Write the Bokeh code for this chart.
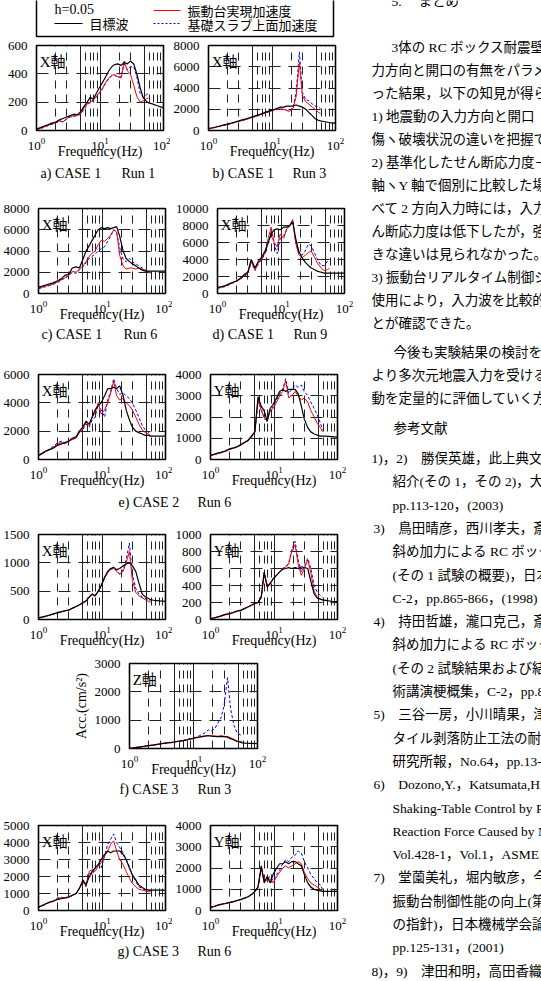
from bokeh.plotting import figure
from bokeh.layouts import column, row
from bokeh.models import Range1d, FixedTicker, Grid, Label, Spacer
from bokeh.core.properties import value
from bokeh.embed import file_html
from bokeh.resources import INLINE

SERIF = "Liberation Serif"
MIXED = "Liberation Serif, Noto Sans CJK JP"
JP = "Noto Sans CJK JP"

# ---------------- data ----------------
F = [1.0, 1.15, 1.3, 1.5, 1.7, 2.0, 2.3, 2.6, 3.0, 3.4, 3.9, 4.4, 5.0, 5.6, 6.3, 7.0, 7.8, 8.7, 9.7,
     11, 12.3, 13.7, 15.3, 17, 19, 21.5, 24, 27, 30, 34, 38, 43, 48, 54, 58]
F_TAIL = [65, 80, 100]

# a) CASE1 Run1 X
A_K = [10, 20, 30, 40, 50, 60, 75, 85, 95, 105, 115, 110, 135, 170, 200, 235, 220, 260, 300, 340, 380, 420, 450, 465, 470, 460, 480, 470, 490, 470, 400, 300, 230, 205, 195, 190, 175, 160]
A_R = [8, 15, 25, 35, 45, 55, 70, 60, 85, 100, 105, 110, 120, 160, 190, 200, 215, 240, 265, 300, 340, 370, 390, 395, 380, 370, 490, 420, 400, 320, 240, 200, 210, 225, 230]
A_B = [5, 12, 22, 33, 42, 52, 65, 62, 80, 95, 100, 105, 115, 150, 185, 195, 210, 235, 260, 295, 335, 365, 385, 390, 375, 380, 470, 430, 450, 450, 380, 260, 235, 255, 260]
# b) CASE1 Run3 X
B_K = [200, 260, 330, 420, 500, 600, 700, 800, 900, 1000, 1100, 1200, 1300, 1400, 1500, 1600, 1700, 1800, 1900, 2000, 2100, 2200, 2200, 2300, 2300, 2300, 2400, 2300, 2200, 2000, 1700, 1400, 1100, 950, 900, 850, 750, 700]
B_R = [150, 220, 300, 400, 480, 580, 680, 760, 870, 950, 1050, 1150, 1250, 1350, 1450, 1550, 1650, 1750, 1850, 1950, 2000, 2050, 2000, 1900, 1800, 2100, 3200, 6400, 3300, 2700, 2500, 2200, 2000, 1700, 1600]
B_B = [150, 220, 300, 390, 470, 570, 670, 750, 860, 940, 1040, 1140, 1240, 1340, 1440, 1540, 1640, 1740, 1840, 1940, 2000, 2000, 1950, 1900, 1800, 2200, 3600, 7400, 3600, 2900, 2800, 2500, 2300, 2200, 2100]
# c) CASE1 Run6 X
C_K = [600, 700, 800, 900, 1000, 1200, 1400, 1700, 1800, 2400, 2500, 2400, 3200, 4000, 4500, 5000, 5500, 6000, 6200, 6100, 6200, 6100, 6200, 6300, 5400, 4000, 3300, 3000, 2800, 2600, 2400, 2200, 2100, 2100, 2100, 2100, 2100, 2100]
C_R = [500, 600, 700, 800, 900, 1100, 1300, 1500, 1700, 2100, 2000, 2300, 2600, 3000, 3500, 3800, 4000, 4600, 5000, 4900, 5200, 5500, 6000, 5800, 3600, 2600, 2300, 2400, 2400, 2300, 2400, 2300, 2200, 2000, 1900]
C_B = [450, 550, 650, 750, 850, 1050, 1250, 1450, 1650, 2000, 1900, 2200, 2500, 2900, 3300, 3500, 3700, 4000, 4200, 4400, 4900, 5400, 6000, 5800, 4300, 3200, 3000, 3300, 3000, 2800, 2600, 2400, 2200, 2100, 2000]
# d) CASE1 Run9 X
D_K = [700, 800, 900, 1100, 1300, 1500, 1800, 2200, 2500, 4000, 3000, 3800, 4300, 5000, 6000, 7000, 7500, 7600, 7500, 7800, 7800, 8000, 8400, 6500, 5000, 4200, 3700, 3300, 3000, 2800, 2600, 2500, 2400, 2400, 2400, 2400, 2400, 2400]
D_R = [650, 750, 850, 1050, 1250, 1450, 1750, 2100, 2400, 3800, 2800, 3600, 4100, 4800, 6500, 7800, 6000, 5500, 7000, 6500, 7600, 8000, 8700, 6000, 4600, 4200, 4500, 4800, 5000, 4200, 3500, 3000, 2700, 2800, 3000]
D_B = [600, 700, 800, 1000, 1200, 1400, 1700, 2000, 2300, 3700, 2700, 3500, 4000, 4700, 6000, 7300, 5800, 4700, 6500, 6800, 7500, 8000, 8600, 6000, 4800, 4500, 5000, 5800, 5600, 4700, 3900, 3300, 3300, 3800, 4000]
# e) CASE2 Run6 X / Y
EX_K = [300, 450, 600, 700, 800, 1000, 1100, 1200, 1300, 1500, 1600, 2000, 2300, 2700, 2500, 3000, 3500, 3800, 4000, 4500, 5000, 5000, 5100, 5000, 5200, 4500, 3500, 2800, 2300, 2000, 1900, 1800, 1700, 1700, 1650, 1650, 1650, 1650]
EX_R = [250, 400, 550, 700, 850, 1100, 1200, 1100, 1300, 1400, 1500, 1900, 2200, 2600, 2400, 3000, 3300, 4000, 3200, 3500, 4000, 4700, 5500, 4500, 4200, 4300, 4000, 3800, 3500, 3000, 2500, 2100, 1900, 1800, 1700]
EX_B = [250, 420, 580, 750, 900, 1200, 1300, 1150, 1300, 1450, 1550, 1900, 2100, 2500, 2300, 2800, 3000, 3900, 3500, 3000, 4200, 4800, 5700, 5000, 4600, 4700, 4500, 4300, 4000, 3500, 3000, 2400, 2100, 1900, 1900]
EY_K = [200, 250, 300, 350, 400, 500, 550, 600, 700, 800, 900, 1100, 1300, 2950, 2500, 2300, 1800, 2400, 2600, 2900, 3200, 3300, 3200, 3300, 3300, 3300, 3100, 2500, 1900, 1500, 1300, 1200, 1150, 1100, 1100, 1100, 1080, 1050]
EY_R = [180, 230, 280, 330, 380, 480, 530, 580, 680, 780, 880, 1050, 1300, 2800, 2300, 2000, 1800, 2300, 2400, 2700, 3000, 3200, 3700, 2900, 3000, 3200, 3000, 2800, 2900, 2700, 2300, 2000, 1700, 1500, 1300]
EY_B = [180, 230, 280, 330, 380, 480, 530, 580, 680, 780, 880, 1050, 1300, 2700, 2400, 1900, 1900, 2300, 2500, 2800, 3100, 3300, 3800, 3100, 3300, 3500, 3400, 3500, 3200, 3000, 2700, 2400, 2100, 1700, 1400]
# f) CASE3 Run3 X / Y / Z
FX_K = [30, 45, 60, 80, 100, 120, 140, 155, 170, 200, 230, 260, 300, 330, 400, 450, 420, 500, 600, 750, 850, 900, 920, 880, 900, 950, 980, 1000, 950, 850, 650, 450, 400, 370, 350, 340, 330, 320]
FX_R = [25, 40, 55, 75, 95, 115, 135, 150, 165, 195, 225, 255, 290, 320, 390, 440, 410, 490, 590, 730, 830, 880, 900, 850, 800, 850, 1000, 1200, 700, 480, 420, 380, 350, 320, 300]
FX_B = [25, 40, 55, 75, 95, 115, 135, 150, 165, 195, 225, 255, 290, 320, 390, 440, 410, 490, 590, 730, 830, 890, 920, 870, 800, 880, 1050, 1350, 800, 550, 450, 400, 370, 350, 330]
FY_K = [10, 20, 30, 45, 60, 70, 85, 100, 110, 130, 150, 170, 190, 200, 260, 560, 380, 420, 480, 520, 560, 590, 600, 610, 600, 610, 600, 620, 610, 600, 450, 300, 250, 240, 230, 225, 215, 210]
FY_R = [8, 18, 28, 42, 55, 65, 80, 95, 105, 125, 145, 165, 185, 200, 270, 540, 400, 430, 480, 520, 560, 600, 620, 650, 800, 880, 650, 520, 600, 700, 550, 330, 260, 240, 230]
FY_B = [8, 18, 28, 42, 55, 65, 80, 95, 105, 125, 145, 165, 185, 200, 270, 540, 400, 430, 480, 520, 560, 600, 620, 660, 820, 920, 700, 560, 620, 720, 600, 400, 320, 280, 260]
Z_K = [0, 20, 40, 60, 80, 100, 120, 140, 160, 180, 200, 210, 230, 250, 260, 280, 300, 330, 350, 380, 400, 420, 440, 450, 440, 430, 420, 430, 420, 400, 350, 300, 250, 220, 200, 190, 180, 170]
Z_R = [0, 20, 40, 60, 80, 100, 120, 140, 160, 180, 200, 210, 230, 250, 270, 290, 310, 340, 360, 390, 410, 430, 450, 460, 450, 440, 430, 450, 430, 420, 380, 320, 260, 250, 260]
Z_B = [0, 20, 40, 60, 80, 100, 120, 140, 160, 180, 200, 210, 230, 250, 270, 290, 310, 340, 360, 400, 450, 500, 560, 650, 620, 700, 900, 1100, 1500, 2500, 1400, 800, 550, 480, 450]
# g) CASE3 Run6 X / Y
GX_K = [200, 300, 400, 500, 550, 650, 700, 750, 800, 900, 1000, 1300, 1800, 1500, 2000, 2300, 2500, 2700, 3000, 3300, 3500, 3400, 3500, 3500, 3500, 3300, 3000, 2500, 2100, 1800, 1500, 1350, 1250, 1200, 1200, 1200, 1200, 1200]
GX_R = [180, 280, 380, 480, 530, 700, 750, 720, 780, 880, 980, 1300, 1700, 1450, 2300, 2400, 2300, 2600, 2800, 3200, 3500, 3900, 4100, 3500, 3000, 2700, 2300, 1900, 1600, 1400, 1250, 1200, 1150, 1100, 1100]
GX_B = [180, 280, 380, 480, 530, 750, 780, 720, 780, 880, 980, 1300, 1700, 1400, 2200, 2100, 2500, 2700, 2500, 3200, 3900, 4200, 4500, 4000, 3700, 3400, 3000, 2600, 2100, 1700, 1400, 1300, 1200, 1200, 1150]
GY_K = [150, 200, 250, 300, 330, 380, 420, 470, 520, 580, 650, 750, 900, 1100, 2100, 1300, 1600, 1300, 1700, 2000, 2200, 2200, 2300, 2200, 2300, 2300, 2200, 2100, 1700, 1300, 1100, 1000, 950, 920, 900, 900, 900, 900]
GY_R = [140, 190, 240, 290, 320, 370, 410, 460, 510, 570, 640, 740, 880, 1100, 2000, 1500, 1400, 1500, 1300, 1600, 1800, 2000, 2100, 2000, 2100, 2200, 2300, 2200, 1800, 1500, 1300, 1200, 1100, 1000, 900]
GY_B = [140, 190, 240, 290, 320, 370, 410, 460, 510, 570, 640, 740, 880, 1100, 2000, 1400, 1500, 1600, 1400, 1700, 1900, 2200, 2400, 2300, 2500, 2600, 2800, 2700, 2300, 2000, 1700, 1500, 1300, 1200, 1000]

GRID_DASHED = [2, 3, 6, 7, 8, 9, 20, 30, 60, 70, 80, 90]
GRID_SOLID = [5, 10, 50]
X_TICKS = [1, 10, 100]

LEGEND_LABELS = ["h=0.05", "目標波", "振動台実現加速度", "基礎スラブ上面加速度"]

CAPTIONS = [
    ["a) CASE 1", "Run 1", "b) CASE 1", "Run 3"],
    ["c) CASE 1", "Run 6", "d) CASE 1", "Run 9"],
    ["e) CASE 2", "Run 6"],
    ["f) CASE 3", "Run 3"],
    ["g) CASE 3", "Run 6"],
]

RIGHT_TEXT = [
    "5.　 まとめ",
    "3体の RC ボックス耐震壁試",
    "力方向と開口の有無をパラメ",
    "った結果，以下の知見が得ら",
    "1) 地震動の入力方向と開口",
    "傷ヽ破壊状況の違いを把握で",
    "2) 基準化したせん断応力度－",
    "軸ヽY 軸で個別に比較した場",
    "べて 2 方向入力時には，入力波",
    "ん断応力度は低下したが，強軸",
    "きな違いは見られなかった。",
    "3) 振動台リアルタイム制御シ",
    "使用により，入力波を比較的",
    "とが確認できた。",
    "今後も実験結果の検討を継",
    "より多次元地震入力を受ける",
    "動を定量的に評価していく方",
    "参考文献",
    "1)，2)　勝俣英雄，此上典文：",
    "紹介(その 1，その 2)，大林",
    "pp.113-120，(2003)",
    "3)　鳥田晴彦，西川孝夫，斎藤",
    "斜め加力による RC ボック",
    "(その 1 試験の概要)，日本",
    "C-2，pp.865-866，(1998)",
    "4)　持田哲雄，瀧口克己，斎藤",
    "斜め加力による RC ボック",
    "(その 2 試験結果および結",
    "術講演梗概集，C-2，pp.86",
    "5)　三谷一房，小川晴果，津田",
    "タイル剥落防止工法の耐震",
    "研究所報，No.64，pp.13-18",
    "6)　Dozono,Y.，Katsumata,H. an",
    "Shaking-Table Control by Re",
    "Reaction Force Caused by N",
    "Vol.428-1，Vol.1，ASME，",
    "7)　堂薗美礼，堀内敏彦，今野",
    "振動台制御性能の向上(第",
    "の指針)，日本機械学会論",
    "pp.125-131，(2001)",
    "8)，9)　津田和明，高田香織：",
]
RIGHT_X = [20, 20, 0, 0, 0, 0, 0, 0, 0, 0, 0, 0, 0, 0, 22, 0, 0, 22,
           0, 21, 21, 2, 21, 21, 21, 2, 21, 21, 21, 2, 21, 21, 2, 21, 21, 21, 2, 21, 21, 21, 0]
RIGHT_Y = [1, 47, 70, 93, 116, 139, 162, 185, 208, 231, 254, 277, 300, 323, 352, 375, 398, 428] + \
          [round(458 + 23.3 * i, 1) for i in range(23)]


# ---------------- helpers ----------------
def spec_plot(black, red, blue, ymax, ystep, axis_name, left=36, right=7, top=8,
              frame_w=127, ylabel=None):
    p = figure(frame_width=frame_w, frame_height=85, x_axis_type="log",
               x_range=Range1d(1, 100), y_range=Range1d(0, ymax),
               min_border_left=left, min_border_right=right, min_border_top=top,
               min_border_bottom=34, toolbar_location=None, output_backend="svg",
               title=None)
    p.outline_line_color = "black"
    p.outline_line_width = 1.6
    yt = list(range(0, ymax + 1, ystep))
    p.xaxis.ticker = FixedTicker(ticks=X_TICKS)
    p.yaxis.ticker = FixedTicker(ticks=yt)
    for ax in p.axis:
        ax.axis_line_color = None
        ax.major_tick_line_color = None
        ax.minor_tick_line_color = None
        ax.major_label_text_font = SERIF
        ax.major_label_text_font_size = "13px"
        ax.major_label_text_color = "black"
        ax.major_label_standoff = 3
    p.xaxis.major_label_standoff = 1
    p.xaxis.axis_label = "Frequency(Hz)"
    p.xaxis.axis_label_text_font = SERIF
    p.xaxis.axis_label_text_font_size = "14px"
    p.xaxis.axis_label_text_font_style = "normal"
    p.xaxis.axis_label_text_color = "black"
    p.xaxis.axis_label_standoff = -9
    if ylabel:
        p.yaxis.axis_label = ylabel
        p.yaxis.axis_label_text_font = SERIF
        p.yaxis.axis_label_text_font_size = "14px"
        p.yaxis.axis_label_text_font_style = "normal"
        p.yaxis.axis_label_text_color = "black"
        p.yaxis.axis_label_standoff = 3
    p.xgrid.ticker = FixedTicker(ticks=GRID_DASHED)
    p.xgrid.grid_line_color = "#222222"
    p.xgrid.grid_line_dash = "8 6"
    p.xgrid.grid_line_width = 1
    p.ygrid.ticker = FixedTicker(ticks=yt)
    p.ygrid.grid_line_color = "#222222"
    p.ygrid.grid_line_dash = "12 8"
    p.ygrid.grid_line_width = 1
    p.add_layout(Grid(dimension=0, ticker=FixedTicker(ticks=GRID_SOLID),
                      grid_line_color="#222222", grid_line_width=1))
    p.line(F, blue, line_color="blue", line_width=1, line_dash="3 2")
    p.line(F, red, line_color="red", line_width=1)
    p.line(F + F_TAIL, black, line_color="black", line_width=1.2)
    p.add_layout(Label(x=1.12, y=ymax * 0.81, text=axis_name, text_font=MIXED,
                       text_font_size="15px", text_baseline="middle", text_color="black"))
    return p


def blank_fig(width, height):
    p = figure(width=width, height=height, x_range=Range1d(0, width), y_range=Range1d(height, 0),
               toolbar_location=None, output_backend="svg", x_axis_location=None,
               y_axis_location=None, min_border=0, title=None)
    p.outline_line_color = None
    p.grid.visible = False
    return p


def caption_fig(height, y, xs, texts):
    p = blank_fig(360, height)
    p.text(x=xs, y=[y] * len(xs), text=texts, text_font=value(SERIF), text_font_size="14px",
           text_baseline="middle", text_align="left", text_color="black")
    return p


# ---------------- legend ----------------
leg = blank_fig(360, 40)
leg.quad(left=[36], right=[333], top=[-5], bottom=[36], fill_color=None,
         line_color="black", line_width=1.5)
leg.line([54, 82], [23, 23], line_color="black", line_width=1)
leg.line([153, 180], [10, 10], line_color="red", line_width=1)
leg.line([153, 180], [23, 23], line_color="blue", line_width=1, line_dash="2 2")
leg.text(x=[54], y=[9], text=[LEGEND_LABELS[0]], text_font=value(SERIF), text_font_size="14px",
         text_baseline="middle")
leg.text(x=[89, 187, 187], y=[23, 10, 24], text=LEGEND_LABELS[1:], text_font=value(JP),
         text_font_size="13px", text_baseline="middle")

# ---------------- plots ----------------
pa = spec_plot(A_K, A_R, A_B, 600, 200, "X軸", top=5)
pb = spec_plot(B_K, B_R, B_B, 8000, 2000, "X軸", right=27, top=5)
pc = spec_plot(C_K, C_R, C_B, 8000, 2000, "X軸")
pd = spec_plot(D_K, D_R, D_B, 10000, 2000, "X軸", right=27)
pex = spec_plot(EX_K, EX_R, EX_B, 6000, 2000, "X軸")
pey = spec_plot(EY_K, EY_R, EY_B, 4000, 1000, "Y軸", right=27)
pfx = spec_plot(FX_K, FX_R, FX_B, 1500, 500, "X軸")
pfy = spec_plot(FY_K, FY_R, FY_B, 1000, 200, "Y軸", right=27)
pz = spec_plot(Z_K, Z_R, Z_B, 3000, 1000, "Z軸", left=51, right=111, top=10, frame_w=128,
               ylabel="Acc.(cm/s²)")
pgx = spec_plot(GX_K, GX_R, GX_B, 5000, 1000, "X軸")
pgy = spec_plot(GY_K, GY_R, GY_B, 4000, 1000, "Y軸", right=27)

cap1 = caption_fig(36, 9, [40, 121, 212, 292], CAPTIONS[0])
cap2 = caption_fig(39, 7, [41, 123, 212, 293], CAPTIONS[1])
cap3 = caption_fig(33, 9, [118, 197], CAPTIONS[2])
cap4 = caption_fig(35, 7, [119, 197], CAPTIONS[3])
cap5 = caption_fig(37, 7, [117, 197], CAPTIONS[4])

left = column(
    leg,
    row(pa, pb),
    cap1,
    row(pc, pd),
    cap2,
    row(pex, pey),
    cap3,
    row(pfx, pfy),
    row(Spacer(width=70, height=129), pz),
    cap4,
    row(pgx, pgy),
    cap5,
)

# ---------------- right text column ----------------
rt = blank_fig(181, 981)
rt.text(x=RIGHT_X, y=RIGHT_Y, text=RIGHT_TEXT, text_font=value(MIXED), text_font_size="13.5px",
        text_baseline="middle", text_align="left", text_color="black")

layout = row(left, rt)

open("out.html", "w").write(file_html(layout, INLINE))
